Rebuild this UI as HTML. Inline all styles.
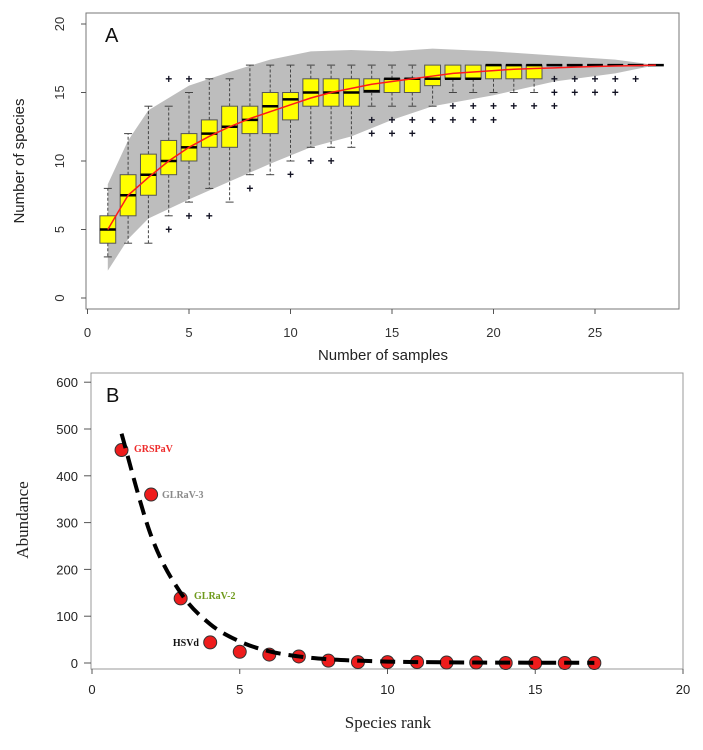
<!DOCTYPE html>
<html><head><meta charset="utf-8"><style>
html,body{margin:0;padding:0;background:#fff;}
svg{display:block;font-family:"Liberation Sans",sans-serif;}
</style></head><body>
<svg id="c" width="703" height="750" viewBox="0 0 703 750" xmlns="http://www.w3.org/2000/svg">
<g id="pa"></g>
<g id="pb"></g>
</svg>
<script>
// Panel A data
const samples = [1,2,3,4,5,6,7,8,9,10,11,12,13,14,15,16,17,18,19,20,21,22,23,24,25,26,27,28];
const q1  = [4,6,7.5,9,10,11,11,12,12,13,14,14,14,15,15,15,15.5,16,16,16,16,16,17,17,17,17,17,17];
const med = [5,7.5,9,10,11,12,12.5,13,14,14.5,15,15,15,15.1,16,16,16,16,16,17,17,17,17,17,17,17,17,17];
const q3  = [6,9,10.5,11.5,12,13,14,14,15,15,16,16,16,16,16,16,17,17,17,17,17,17,17,17,17,17,17,17];
const wlo = [3,4,4,6,7,8,7,9,9,10,11,11,11,14,14,14,14,15,15,15,15,15,17,17,17,17,17,17];
const whi = [8,12,14,14,15,16,16,17,17,17,17,17,17,17,17,17,17,17,17,17,17,17,17,17,17,17,17,17];
const outliers = [[],[],[],[5,16],[6,16],[6],[],[8],[],[9],[10],[10],[],[13,12],[13,12],[13,12],[13],[14,13],[14,13],[14,13],[14],[14],[16,15,14],[16,15],[16,15],[16,15],[16],[]];
const meanLine = [5,7.5,8.8,10,11,11.8,12.5,13.1,13.6,14.1,14.6,15,15.3,15.6,15.8,16,16.2,16.4,16.5,16.6,16.7,16.75,16.8,16.85,16.9,16.93,16.96,17];
const bandX  = [1,2,3,5,7,9,11,13,15,17,20,23,26,28];
const bandHi = [8.3,11.5,13.7,15.5,16.5,17.4,18,18.1,18,18.2,18,17.7,17.4,17];
const bandLo = [2,4.3,5.8,7.2,8.5,9.8,11,11.8,13,14,14.8,15.8,16.4,17];
const aXTicks = [0,5,10,15,20,25];
const aYTicks = [0,5,10,15,20];

// Panel B data
const ranks = [1,2,3,4,5,6,7,8,9,10,11,12,13,14,15,16,17];
const abundance = [455,360,138,44,24,18,14,5,2,2,2,1,1,0,0,0,0];
const fitted = [490,272,150,83,46,25,14,8,5,3,2,1.5,1,0.8,0.6,0.5,0.4];
const labelNames = ["GRSPaV","GLRaV-3","GLRaV-2","HSVd"];
const labelColors = ["#ee2b2b","#8a8a8a","#6f9a1c","#111"];
const bXTicks = [0,5,10,15,20];
const bYTicks = [0,100,200,300,400,500,600];

const NS="http://www.w3.org/2000/svg";
function mk(parent,tag,attrs,text){const e=document.createElementNS(NS,tag);for(const k in attrs)e.setAttribute(k,attrs[k]);if(text!==undefined)e.textContent=text;parent.appendChild(e);return e;}

// ---------- Panel A ----------
const pa=document.getElementById('pa');
const ax=v=>87.5+20.3*v, ay=v=>298-13.7*v;
let bd="M"+ax(bandX[0])+","+ay(bandHi[0]);
for(let i=1;i<bandX.length;i++) bd+=" L"+ax(bandX[i])+","+ay(bandHi[i]);
for(let i=bandX.length-1;i>=0;i--) bd+=" L"+ax(bandX[i])+","+ay(bandLo[i]);
const band=mk(pa,'path',{d:bd+"Z",fill:"#bdbdbd"});


const bw=0.39;
samples.forEach((s,i)=>{
  const g=mk(pa,'g',{});
  
  
  const cx=ax(s);
  if(whi[i]>q3[i]){mk(g,'line',{x1:cx,x2:cx,y1:ay(q3[i]),y2:ay(whi[i]),stroke:"#444","stroke-dasharray":"3,2"});mk(g,'line',{x1:cx-4,x2:cx+4,y1:ay(whi[i]),y2:ay(whi[i]),stroke:"#444"});}
  if(wlo[i]<q1[i]){mk(g,'line',{x1:cx,x2:cx,y1:ay(q1[i]),y2:ay(wlo[i]),stroke:"#444","stroke-dasharray":"3,2"});mk(g,'line',{x1:cx-4,x2:cx+4,y1:ay(wlo[i]),y2:ay(wlo[i]),stroke:"#444"});}
  if(q3[i]>q1[i]) mk(g,'rect',{x:ax(s-bw),y:ay(q3[i]),width:ax(s+bw)-ax(s-bw),height:ay(q1[i])-ay(q3[i]),fill:"#ffff00",stroke:"#555","stroke-width":1});
  mk(g,'line',{x1:ax(s-bw),x2:ax(s+bw),y1:ay(med[i]),y2:ay(med[i]),stroke:"#000","stroke-width":2.5});
  outliers[i].forEach(o=>{mk(g,'text',{x:cx,y:ay(o)+4,"text-anchor":"middle","font-size":12,"font-weight":"bold",fill:"#112"},"+");});
});
let ml="";
samples.forEach((s,i)=>{ml+=(i?" L":"M")+ax(s)+","+ay(meanLine[i]);});
const mline=mk(pa,'path',{d:ml,fill:"none",stroke:"#ff1a1a","stroke-width":1.5});


const fa=mk(pa,'rect',{x:86,y:13,width:593,height:296,fill:"none",stroke:"#777"});


aXTicks.forEach(t=>{mk(pa,'line',{x1:ax(t),x2:ax(t),y1:309,y2:314,stroke:"#555"});const tl=mk(pa,'text',{x:ax(t),y:337,"text-anchor":"middle","font-size":13,fill:"#333"},t);});
aYTicks.forEach(t=>{mk(pa,'line',{x1:81,x2:86,y1:ay(t),y2:ay(t),stroke:"#555"});const tl=mk(pa,'text',{x:0,y:0,"text-anchor":"middle","font-size":13,fill:"#333",transform:`translate(64,${ay(t)}) rotate(-90)`},t);});
</script>
<script>
const pb=document.getElementById('pb');
const bx=v=>92+29.55*v, by=v=>663-0.468*v;
const fb=mk(pb,'rect',{x:91,y:373,width:592,height:296,fill:"none",stroke:"#999"});


const pts=ranks.map((r,i)=>[bx(r),by(fitted[i])]);
let cd="M"+pts[0][0]+","+pts[0][1];
for(let i=0;i<pts.length-1;i++){const p0=pts[Math.max(0,i-1)],p1=pts[i],p2=pts[i+1],p3=pts[Math.min(pts.length-1,i+2)];
cd+=` C${p1[0]+(p2[0]-p0[0])/6},${p1[1]+(p2[1]-p0[1])/6} ${p2[0]-(p3[0]-p1[0])/6},${p2[1]-(p3[1]-p1[1])/6} ${p2[0]},${p2[1]}`;}
abundance.forEach((a,i)=>{
  const c=mk(pb,'circle',{cx:bx(ranks[i]),cy:by(a),r:6.5,fill:"#ee1c1c",stroke:"#333","stroke-width":1});
  
  
});
const curve=mk(pb,'path',{d:cd,fill:"none",stroke:"#000","stroke-width":4,"stroke-dasharray":"15,8"});


const lpos=[[134,452,"start"],[162,498,"start"],[194,599,"start"],[199,646,"end"]];
labelNames.forEach((n,i)=>{
  const t=mk(pb,'text',{x:lpos[i][0],y:lpos[i][1],"text-anchor":lpos[i][2],"font-size":10,"font-weight":"bold","font-family":"Liberation Serif, serif",fill:labelColors[i]},n);
  
  
});
bXTicks.forEach(t=>{mk(pb,'line',{x1:bx(t),x2:bx(t),y1:669,y2:674,stroke:"#555"});const tl=mk(pb,'text',{x:bx(t),y:694,"text-anchor":"middle","font-size":13,fill:"#222"},t);});
bYTicks.forEach(t=>{mk(pb,'line',{x1:84,x2:91,y1:by(t),y2:by(t),stroke:"#555"});const tl=mk(pb,'text',{x:78,y:by(t)+5,"text-anchor":"end","font-size":13,fill:"#222"},t);});
</script>
<svg width="703" height="750" style="position:absolute;left:0;top:0" xmlns="http://www.w3.org/2000/svg">
<text x="105" y="42" font-size="20" fill="#111" font-family="Liberation Sans, sans-serif">A</text>
<text x="383" y="360" font-size="15" fill="#222" text-anchor="middle" font-family="Liberation Sans, sans-serif">Number of samples</text>
<text transform="translate(24,161) rotate(-90)" font-size="15" fill="#222" text-anchor="middle" font-family="Liberation Sans, sans-serif">Number of species</text>
<text x="106" y="402" font-size="20" fill="#111" font-family="Liberation Sans, sans-serif">B</text>
<text x="388" y="728" font-size="17" fill="#222" text-anchor="middle" font-family="Liberation Serif, serif">Species rank</text>
<text transform="translate(28,520) rotate(-90)" font-size="17" fill="#222" text-anchor="middle" font-family="Liberation Serif, serif">Abundance</text>
</svg>
</body></html>
